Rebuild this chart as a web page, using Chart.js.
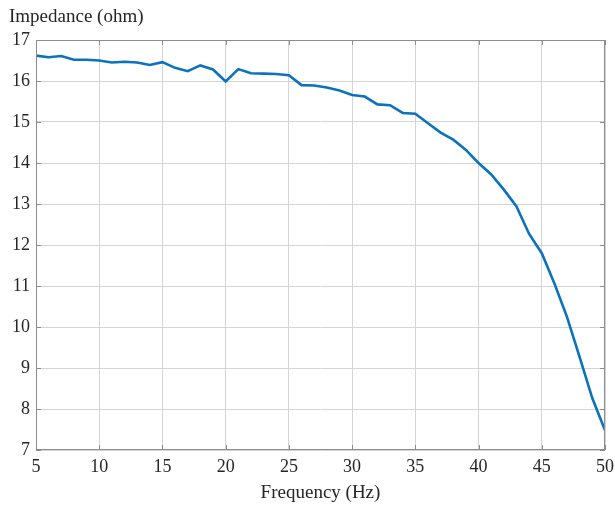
<!DOCTYPE html>
<html>
<head>
<meta charset="utf-8">
<script src="https://cdn.jsdelivr.net/npm/chart.js@4/dist/chart.umd.min.js"></script>
<style>
  body { margin: 0; background: #fff; }
  #wrap { width: 615px; height: 506px; }
</style>
</head>
<body>
<div id="wrap"><canvas id="myChart" width="615" height="506"></canvas></div>
<script>
// frequency sweep, 5..50 Hz
var freq = [5, 6, 7, 8, 9, 10, 11, 12, 13, 14, 15, 16, 17, 18, 19, 20, 21, 22, 23, 24, 25, 26, 27,
            28, 29, 30, 31, 32, 33, 34, 35, 36, 37, 38, 39, 40, 41, 42, 43, 44, 45, 46, 47, 48, 49, 50];
// measured impedance (ohm)
var impedance = [16.62, 16.58, 16.61, 16.52, 16.52, 16.50, 16.45, 16.47, 16.45, 16.39, 16.46, 16.32,
                 16.24, 16.38, 16.28, 15.99, 16.29, 16.19, 16.18, 16.17, 16.14, 15.90, 15.89, 15.84,
                 15.77, 15.66, 15.62, 15.43, 15.41, 15.22, 15.20, 14.97, 14.74, 14.57, 14.32, 14.00,
                 13.72, 13.35, 12.94, 12.27, 11.80, 11.06, 10.24, 9.26, 8.26, 7.48];

var xTitle = 'Frequency (Hz)';
var yTitle = 'Impedance (ohm)';

var serif = "'Liberation Serif', 'Times New Roman', serif";
var textColor = '#262626';

// box around the plot area, inward ticks and the y label on top
var boxPlugin = {
    id: 'box',
    afterDraw: function(chart) {
        var ctx = chart.ctx, a = chart.chartArea;
        var xs = chart.scales.x, ys = chart.scales.y;
        ctx.save();
        ctx.strokeStyle = '#8c8c8c';
        ctx.lineWidth = 1;
        ctx.strokeRect(a.left + 0.5, a.top + 0.5, a.right - a.left - 1, a.bottom - a.top - 1);
        ctx.beginPath();
        xs.ticks.forEach(function(t) {
            var px = Math.round(xs.getPixelForValue(t.value)) + 0.5;
            ctx.moveTo(px, a.bottom); ctx.lineTo(px, a.bottom - 5);
            ctx.moveTo(px, a.top); ctx.lineTo(px, a.top + 5);
        });
        ys.ticks.forEach(function(t) {
            var py = Math.round(ys.getPixelForValue(t.value)) + 0.5;
            ctx.moveTo(a.left, py); ctx.lineTo(a.left + 5, py);
            ctx.moveTo(a.right, py); ctx.lineTo(a.right - 5, py);
        });
        ctx.stroke();

        ctx.fillStyle = textColor;
        ctx.font = '19px ' + serif;
        ctx.textAlign = 'left';
        ctx.textBaseline = 'middle';
        ctx.fillText(yTitle, 9, 17);
        ctx.restore();
    }
};

var ctx = document.getElementById('myChart').getContext('2d');
var myChart = new Chart(ctx, {
    type: 'line',
    data: {
        datasets: [{
            data: freq.map(function(f, i) { return { x: f, y: impedance[i] }; }),
            borderColor: '#0b72bd',
            borderWidth: 2.6,
            pointRadius: 0,
            tension: 0,
            fill: false
        }]
    },
    options: {
        responsive: false,
        animation: false,
        layout: { padding: { left: 0, right: 10, top: 40, bottom: 0 } },
        plugins: {
            legend: { display: false },
            tooltip: { enabled: false }
        },
        scales: {
            x: {
                type: 'linear',
                min: 5,
                max: 50,
                ticks: { stepSize: 5, padding: 6, color: textColor, font: { family: serif, size: 18 } },
                grid: { color: '#d4d4d4', drawTicks: false },
                border: { display: false },
                title: { display: true, text: xTitle, color: textColor, padding: { top: 2, bottom: 2 },
                         font: { family: serif, size: 19 } },
                afterFit: function(s) {
                    s.height = 56;
                    s.paddingLeft = 0;
                    s.paddingRight = 0;
                }
            },
            y: {
                min: 7,
                max: 17,
                ticks: { stepSize: 1, padding: 6, color: textColor, font: { family: serif, size: 18 } },
                grid: { color: '#d4d4d4', drawTicks: false },
                border: { display: false },
                afterFit: function(s) {
                    s.width = 36;
                    s.paddingTop = 0;
                    s.paddingBottom = 0;
                }
            }
        }
    },
    plugins: [boxPlugin]
});
</script>
</body>
</html>
